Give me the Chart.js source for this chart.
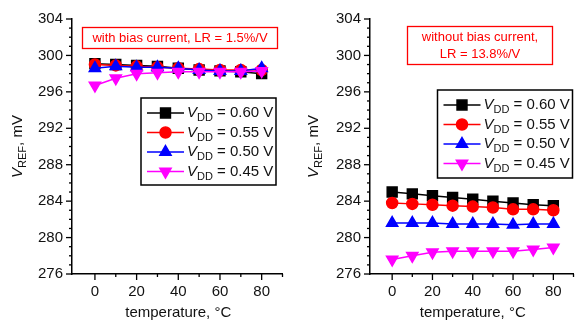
<!DOCTYPE html>
<html>
<head>
<meta charset="utf-8">
<script src="https://cdn.jsdelivr.net/npm/chart.js@4.4.0/dist/chart.umd.min.js"></script>
<style>
    body { margin: 0; background: #fff; }
    .panel { position: absolute; top: 0; width: 291px; height: 322px; }
</style>
</head>
<body>
<div class="panel" style="left:0"><canvas id="chartWith" width="291" height="322"></canvas></div>
<div class="panel" style="left:291px"><canvas id="chartWithout" width="291" height="322"></canvas></div>
<script>
// Temperaturas (°C) y etiquetas de VDD
var temps = [0, 10, 20, 30, 40, 50, 60, 70, 80];
var vddLabels = ['0.60', '0.55', '0.50', '0.45'];
var yTicks = [276, 280, 284, 288, 292, 296, 300, 304];

// VREF (mV) con corriente de polarización
var withBias060 = [299.1, 299.0, 298.9, 298.8, 298.6, 298.4, 298.3, 298.2, 298.0];
var withBias055 = [299.0, 298.9, 298.8, 298.7, 298.6, 298.5, 298.4, 298.4, 298.4];
var withBias050 = [298.6, 298.8, 298.7, 298.7, 298.6, 298.4, 298.3, 298.3, 298.6];
var withBias045 = [296.7, 297.5, 298.0, 298.1, 298.2, 298.2, 298.2, 298.2, 298.3];

// VREF (mV) sin corriente de polarización
var noBias060 = [285.0, 284.8, 284.6, 284.4, 284.2, 284.0, 283.8, 283.6, 283.5];
var noBias055 = [283.8, 283.7, 283.6, 283.5, 283.4, 283.3, 283.1, 283.1, 283.0];
var noBias050 = [281.6, 281.6, 281.6, 281.5, 281.5, 281.5, 281.4, 281.5, 281.5];
var noBias045 = [277.6, 278.0, 278.4, 278.5, 278.5, 278.5, 278.5, 278.7, 278.9];

var colors = ['#000000', '#ff0000', '#0000ff', '#ff00ff'];
var styles = ['rect', 'circle', 'triangle', 'triangle'];
var radii = [7, 5.5, 6.5, 6.5];
var rotations = [0, 0, 0, 180];
var FONT = '"Liberation Sans", Arial, sans-serif';

function points(vals) {
    return temps.map(function(t, i) { return { x: t, y: vals[i] }; });
}

// Dibuja texto con partes en cursiva / subíndice
function richText(ctx, parts, x, y, align) {
    var total = 0;
    parts.forEach(function(p) {
        ctx.font = (p.italic ? 'italic ' : '') + (p.sub ? '11px ' : '15px ') + FONT;
        p.w = ctx.measureText(p.text).width;
        total += p.w;
    });
    var cx = align === 'center' ? x - total / 2 : x;
    ctx.textAlign = 'left';
    ctx.textBaseline = 'middle';
    parts.forEach(function(p) {
        ctx.font = (p.italic ? 'italic ' : '') + (p.sub ? '11px ' : '15px ') + FONT;
        ctx.fillText(p.text, cx, y + (p.sub ? 5 : 0));
        cx += p.w;
    });
}

function makePanel(id, series, yAxisWidth, padRight, note, legend, yTitleX) {
    var datasets = series.map(function(vals, i) {
        return {
            label: 'VDD = ' + vddLabels[i] + ' V',
            data: points(vals),
            borderColor: colors[i],
            backgroundColor: colors[i],
            borderWidth: 1.5,
            pointStyle: styles[i],
            pointRadius: radii[i],
            pointRotation: rotations[i],
            order: 3 - i
        };
    });

    var decorations = {
        id: 'decorations',
        afterDraw: function(chart) {
            var ctx = chart.ctx, xs = chart.scales.x, ys = chart.scales.y, a = chart.chartArea;
            ctx.save();
            ctx.strokeStyle = '#000';
            ctx.lineWidth = 1.3;
            // marcas del eje y
            for (var v = 276; v <= 304; v++) {
                var py = ys.getPixelForValue(v);
                var len = v % 4 === 0 ? 6 : 3;
                ctx.beginPath(); ctx.moveTo(a.left - len, py); ctx.lineTo(a.left, py); ctx.stroke();
            }
            // marcas del eje x
            for (var t = 0; t <= 90; t += 10) {
                var px = xs.getPixelForValue(t);
                var l = t % 20 === 0 ? 6 : 3;
                ctx.beginPath(); ctx.moveTo(px, a.bottom); ctx.lineTo(px, a.bottom + l); ctx.stroke();
            }
            // títulos de ejes
            ctx.fillStyle = '#111';
            richText(ctx, [{ text: 'temperature, °C' }], (a.left + a.right) / 2 + 1, 313, 'center');
            ctx.save();
            ctx.translate(yTitleX, (a.top + a.bottom) / 2);
            ctx.rotate(-Math.PI / 2);
            richText(ctx, [{ text: 'V', italic: true }, { text: 'REF', sub: true }, { text: ', mV' }], 0, 0, 'center');
            ctx.restore();
            // recuadro de anotación
            ctx.strokeStyle = '#ff0000';
            ctx.lineWidth = 1.3;
            ctx.strokeRect(note.x, note.y, note.w, note.h);
            ctx.fillStyle = '#ff0000';
            ctx.font = '13px ' + FONT;
            ctx.textAlign = 'center';
            ctx.textBaseline = 'middle';
            note.lines.forEach(function(line, i) {
                ctx.fillText(line, note.x + note.w / 2, note.textY + i * 17);
            });
            // leyenda
            ctx.strokeStyle = '#000';
            ctx.lineWidth = 1.5;
            ctx.strokeRect(legend.x, legend.y, legend.w, legend.h);
            datasets.forEach(function(ds, i) {
                var ry = legend.y + 15 + i * 19.5;
                ctx.strokeStyle = ds.borderColor;
                ctx.lineWidth = 1.5;
                ctx.beginPath(); ctx.moveTo(legend.x + 6, ry); ctx.lineTo(legend.x + 43, ry); ctx.stroke();
                ctx.fillStyle = ds.backgroundColor;
                Chart.helpers.drawPoint(ctx, {
                    pointStyle: ds.pointStyle, radius: ds.pointRadius, rotation: ds.pointRotation, borderWidth: 1
                }, legend.x + 24.5, ry);
                ctx.fillStyle = '#111';
                richText(ctx, [{ text: 'V', italic: true }, { text: 'DD', sub: true }, { text: ' = ' + vddLabels[i] + ' V' }],
                    legend.x + 46, ry, 'left');
            });
            ctx.restore();
        }
    };

    var ctx = document.getElementById(id).getContext('2d');
    return new Chart(ctx, {
        type: 'line',
        data: { datasets: datasets },
        options: {
            responsive: false,
            animation: false,
            layout: { padding: { top: 19, right: padRight, left: 0, bottom: 0 } },
            plugins: { legend: { display: false }, tooltip: { enabled: false } },
            scales: {
                x: {
                    type: 'linear',
                    min: -11,
                    max: 90,
                    afterFit: function(s) { s.height = 48; },
                    grid: { display: false, drawTicks: false },
                    border: { display: true, color: '#000', width: 1.5 },
                    ticks: {
                        stepSize: 20,
                        padding: 9,
                        color: '#111',
                        font: { size: 15, family: FONT },
                        callback: function(v) { return v >= 0 && v <= 80 && v % 20 === 0 ? v : ''; }
                    },
                    afterBuildTicks: function(s) {
                        s.ticks = temps.filter(function(t) { return t % 20 === 0; }).map(function(t) { return { value: t }; });
                    }
                },
                y: {
                    min: 276,
                    max: 304,
                    afterFit: function(s) { s.width = yAxisWidth; },
                    grid: { display: false, drawTicks: false },
                    border: { display: true, color: '#000', width: 1.5 },
                    ticks: {
                        padding: 9,
                        color: '#111',
                        font: { size: 15, family: FONT }
                    },
                    afterBuildTicks: function(s) {
                        s.ticks = yTicks.map(function(v) { return { value: v }; });
                    }
                }
            }
        },
        plugins: [decorations]
    });
}

makePanel('chartWith', [withBias060, withBias055, withBias050, withBias045], 72, 6,
    { x: 82.5, y: 27.5, w: 195, h: 21, textY: 38, lines: ['with bias current, LR = 1.5%/V'] },
    { x: 141, y: 98, w: 135, h: 87 }, 18);

makePanel('chartWithout', [noBias060, noBias055, noBias050, noBias045], 79, 0,
    { x: 116.5, y: 26.5, w: 145, h: 38, textY: 37.5, lines: ['without bias current,', 'LR = 13.8%/V'] },
    { x: 146.5, y: 90, w: 135, h: 88 }, 23);
</script>
</body>
</html>
